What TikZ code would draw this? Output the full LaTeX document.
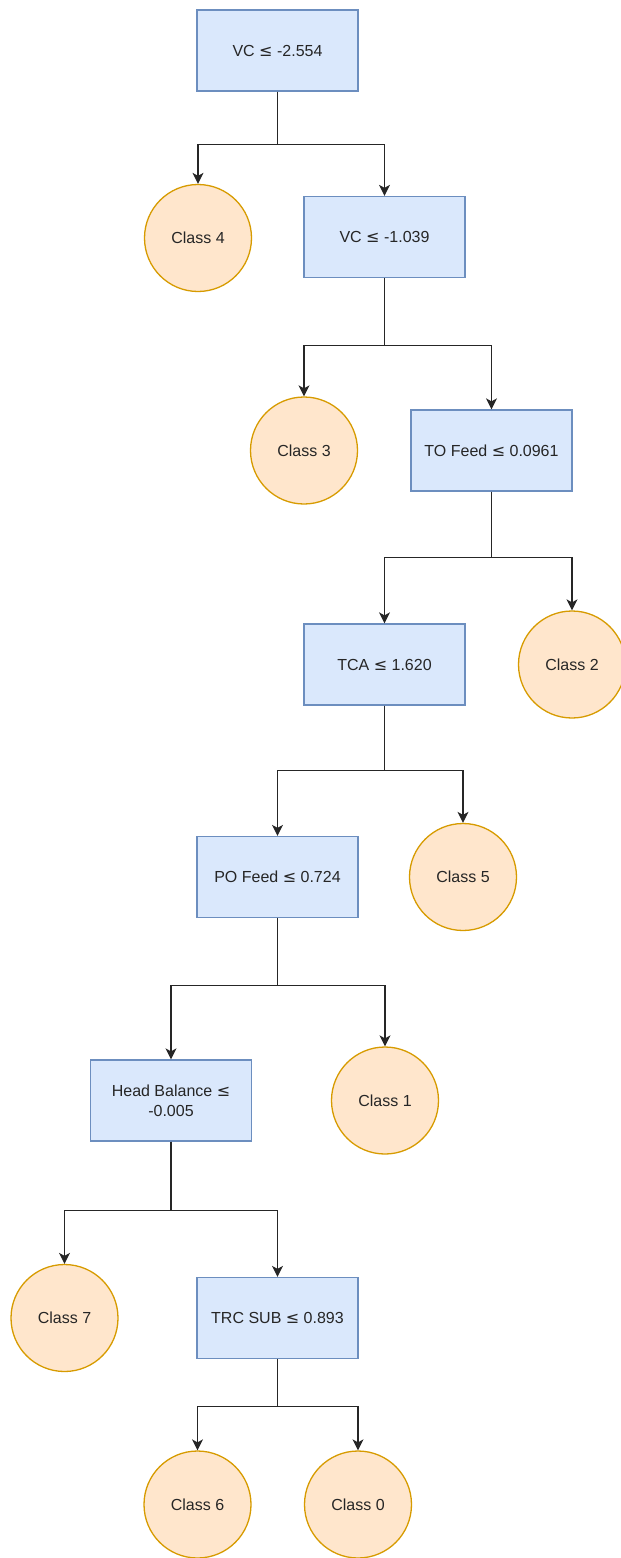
\documentclass[tikz,border=0pt]{standalone}
\usepackage{fontspec}
\setmainfont{Liberation Sans}
\newfontfamily\symfont{DejaVu Sans}
\usepackage{xcolor}
\usepackage{tikz}
\usetikzlibrary{arrows.meta}
\definecolor{splitfill}{HTML}{DAE8FC}
\definecolor{splitline}{HTML}{6C8EBF}
\definecolor{leaffill}{HTML}{FFE6CC}
\definecolor{leafline}{HTML}{D79B00}
\newcommand{\lte}{{\symfont ≤}}
\tikzset{
  split/.style={draw=splitline, fill=splitfill, line width=1.3pt, minimum width=161pt, minimum height=81pt, inner sep=2pt, align=center, text=black!85, font=\fontsize{16}{20}\selectfont},
  leaf/.style={circle, draw=leafline, fill=leaffill, line width=1.3pt, minimum size=107pt, inner sep=0pt, text=black!85, font=\fontsize{16}{20}\selectfont},
  flow/.style={-{Stealth[length=11pt,width=11pt,inset=3pt]}, line width=1.3pt, draw=black!85},
}

\begin{document}
\begin{tikzpicture}[x=1pt,y=-1pt]
\useasboundingbox (0,0) rectangle (621,1558);
% splits
\node[split] (vca) at (277.5,50.5) {VC \lte{} -2.554};
\node[split] (vcb) at (384.5,237) {VC \lte{} -1.039};
\node[split] (tof) at (491.5,450.5) {TO Feed \lte{} 0.0961};
\node[split] (tca) at (384.5,664.5) {TCA \lte{} 1.620};
\node[split] (pof) at (277.5,877) {PO Feed \lte{} 0.724};
\node[split] (hb)  at (171,1100.5) {Head Balance \lte\\-0.005};
\node[split] (trc) at (277.5,1318) {TRC SUB \lte{} 0.893};
% leaves
\node[leaf] (c4) at (198,238) {Class 4};
\node[leaf] (c3) at (304,450.5) {Class 3};
\node[leaf] (c2) at (572,664.5) {Class 2};
\node[leaf] (c5) at (463,877) {Class 5};
\node[leaf] (c1) at (385,1100.5) {Class 1};
\node[leaf] (c7) at (64.5,1318) {Class 7};
\node[leaf] (c6) at (197.5,1504.5) {Class 6};
\node[leaf] (c0) at (358,1504.5) {Class 0};
% branches
\draw[flow] (vca.south) -- ++(0,53) -| (c4.north);
\draw[flow] (vca.south) -- ++(0,53) -| (vcb.north);
\draw[flow] (vcb.south) -- ++(0,67) -| (c3.north);
\draw[flow] (vcb.south) -- ++(0,67) -| (tof.north);
\draw[flow] (tof.south) -- ++(0,66) -| (tca.north);
\draw[flow] (tof.south) -- ++(0,66) -| (c2.north);
\draw[flow] (tca.south) -- ++(0,65) -| (pof.north);
\draw[flow] (tca.south) -- ++(0,65) -| (c5.north);
\draw[flow] (pof.south) -- ++(0,67) -| (hb.north);
\draw[flow] (pof.south) -- ++(0,67) -| (c1.north);
\draw[flow] (hb.south) -- ++(0,69) -| (c7.north);
\draw[flow] (hb.south) -- ++(0,69) -| (trc.north);
\draw[flow] (trc.south) -- ++(0,47) -| (c6.north);
\draw[flow] (trc.south) -- ++(0,47) -| (c0.north);
\end{tikzpicture}
\end{document}
